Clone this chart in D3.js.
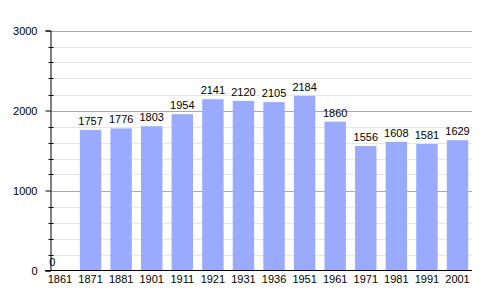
<!DOCTYPE html>
<head>
    <meta charset="utf-8">
    <script src="https://d3js.org/d3.v7.min.js"></script>
    <style>
        *{ margin:0; padding:0; }
        body{ background:#fff; font-family:'Liberation Sans', Arial, sans-serif; }
        text{ font-size:11px; fill:#000; }
    </style>
</head>
<body>
<svg id="chart" width="500" height="300"></svg>
<script>
    // data
    const years = ["1861","1871","1881","1901","1911","1921","1931","1936","1951","1961","1971","1981","1991","2001"];
    const population = [0,1757,1776,1803,1954,2141,2120,2105,2184,1860,1556,1608,1581,1629];
    const majorTicks = [0,1000,2000,3000];

    const svg = d3.select("#chart");
    const plotLeft = 50, plotRight = 472, plotTop = 30.5, plotBottom = 270.5;

    const x = d3.scaleBand()
        .domain(years)
        .range([44.7, 472.8])
        .paddingInner(0.3)
        .paddingOuter(0.15);
    const y = d3.scaleLinear()
        .domain([0, 3000])
        .range([plotBottom, plotTop]);

    // minor grid every 200
    const minor = d3.range(0, 3001, 200).filter(v => v % 1000 != 0);
    svg.append("g")
        .selectAll("line")
        .data(minor)
        .join("line")
        .attr("x1", plotLeft).attr("x2", plotRight)
        .attr("y1", d => Math.round(y(d)) + 0.5)
        .attr("y2", d => Math.round(y(d)) + 0.5)
        .attr("stroke", "#e6e6e6");
    // major grid
    svg.append("g")
        .selectAll("line")
        .data(majorTicks.slice(1))
        .join("line")
        .attr("x1", plotLeft).attr("x2", plotRight)
        .attr("y1", d => Math.round(y(d)) + 0.5)
        .attr("y2", d => Math.round(y(d)) + 0.5)
        .attr("stroke", "#aaaaaa");

    // bars
    svg.append("g")
        .selectAll("rect")
        .data(population)
        .join("rect")
        .attr("x", (d,i) => x(years[i]))
        .attr("width", x.bandwidth())
        .attr("y", d => y(d))
        .attr("height", d => plotBottom - y(d))
        .attr("fill", "#99aaff");

    // value labels
    svg.append("g")
        .selectAll("text")
        .data(population)
        .join("text")
        .attr("x", (d,i) => d == 0 ? x(years[i]) : x(years[i]) + x.bandwidth()/2)
        .attr("y", d => y(d) - 5)
        .attr("text-anchor", d => d == 0 ? "start" : "middle")
        .text(d => d);

    // y axis
    const yAxis = d3.axisLeft(y)
        .tickValues(majorTicks)
        .tickFormat(d3.format("d"))
        .tickSize(5)
        .tickPadding(8);
    const gy = svg.append("g")
        .attr("transform", `translate(${plotLeft + 0.5},0)`)
        .call(yAxis);
    gy.select(".domain").attr("stroke", "#000");
    gy.selectAll(".tick text")
        .attr("font-family", "'Liberation Sans', Arial, sans-serif")
        .attr("font-size", 11)
        .attr("fill", "#000");
    // minor ticks
    gy.append("g")
        .selectAll("line")
        .data(minor)
        .join("line")
        .attr("x1", -2).attr("x2", 3)
        .attr("y1", d => Math.round(y(d)) + 0.5)
        .attr("y2", d => Math.round(y(d)) + 0.5)
        .attr("stroke", "#000");

    // x axis
    svg.append("line")
        .attr("x1", plotLeft - 5).attr("x2", plotRight)
        .attr("y1", plotBottom).attr("y2", plotBottom)
        .attr("stroke", "#000")
        .attr("stroke-width", 1);
    svg.append("g")
        .selectAll("text")
        .data(years)
        .join("text")
        .attr("x", d => x(d) + x.bandwidth()/2)
        .attr("y", 283)
        .attr("text-anchor", "middle")
        .text(d => d);
</script>
</body>
</html>
